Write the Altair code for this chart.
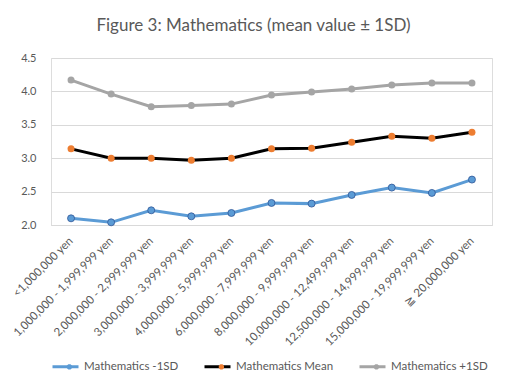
import math
import altair as alt
import pandas as pd

categories = [
    "<1,000,000 yen",
    "1,000,000 - 1,999,999 yen",
    "2,000,000 - 2,999,999 yen",
    "3,000,000 - 3,999,999 yen",
    "4,000,000 - 5,999,999 yen",
    "6,000,000 - 7,999,999 yen",
    "8,000,000 - 9,999,999 yen",
    "10,000,000 - 12,499,999 yen",
    "12,500,000 - 14,999,999 yen",
    "15,000,000 - 19,999,999 yen",
    "≧ 20,000,000 yen",
]
minus_sd = [2.10, 2.04, 2.22, 2.13, 2.18, 2.33, 2.32, 2.45, 2.56, 2.48, 2.68]
mean_vals = [3.14, 3.00, 3.00, 2.97, 3.00, 3.14, 3.15, 3.24, 3.33, 3.30, 3.39]
plus_sd = [4.17, 3.96, 3.77, 3.79, 3.81, 3.945, 3.99, 4.035, 4.095, 4.125, 4.125]

series_names = ["Mathematics -1SD", "Mathematics Mean", "Mathematics +1SD"]
line_colors = ["#5b9bd5", "#000000", "#a5a5a5"]
point_colors = ["#5b9bd5", "#ed7d31", "#a5a5a5"]

rows = []
for name, vals in zip(series_names, [minus_sd, mean_vals, plus_sd]):
    for c, v in zip(categories, vals):
        rows.append({"cat": c, "value": v, "series": name})
df = pd.DataFrame(rows)

FONT = "Lato"
GREY = "#595959"

x_enc = alt.X(
    "cat:N",
    sort=categories,
    scale=alt.Scale(type="point", padding=0.5),
    axis=alt.Axis(
        title=None,
        labelAngle=-45,
        labelAlign="right",
        labelBaseline="middle",
        labelPadding=14,
        ticks=False,
        domain=True,
        domainColor="#d9d9d9",
        labelFont=FONT,
        labelFontSize=11.5,
        labelColor=GREY,
        labelOverlap=False,
        labelLimit=300,
    ),
)
y_enc = alt.Y(
    "value:Q",
    scale=alt.Scale(domain=[2.0, 4.5], nice=False, zero=False),
    axis=alt.Axis(
        title=None,
        values=[2.0, 2.5, 3.0, 3.5, 4.0, 4.5],
        format=".1f",
        ticks=False,
        domain=False,
        gridColor="#d9d9d9",
        labelPadding=15,
        labelFont=FONT,
        labelFontSize=11,
        labelColor=GREY,
    ),
)

# legend symbol shapes (unit square coordinates): a line, and a line + small round dot
line_path = "M-1,0L1,0"
dot_r = 0.21
dot_cx = 0.3
poly = "L".join(
    f"{dot_cx + dot_r * math.cos(2 * math.pi * k / 16):.3f},{dot_r * math.sin(2 * math.pi * k / 16):.3f}"
    for k in range(16)
)
dot_path = "M-1,0L1,0M" + poly + "Z"

common_legend = dict(
    title=None,
    orient="none",
    direction="horizontal",
    legendX=0,
    legendY=294,
    symbolSize=676,
    symbolStrokeWidth=3,
    labelFont=FONT,
    labelFontSize=11.5,
    labelColor=GREY,
    labelOffset=4,
    columnPadding=19,
    padding=0,
)

lines = alt.Chart(df).mark_line(strokeWidth=3).encode(
    x=x_enc,
    y=y_enc,
    stroke=alt.Stroke(
        "series:N",
        sort=series_names,
        scale=alt.Scale(domain=series_names, range=line_colors),
        legend=alt.Legend(
            symbolType=line_path,
            symbolFillColor="transparent",
            **common_legend,
        ),
    ),
)

points = alt.Chart(df).mark_point(filled=True, size=49, opacity=1, shape="circle").encode(
    x=x_enc,
    y=y_enc,
    fill=alt.Fill(
        "series:N",
        sort=series_names,
        scale=alt.Scale(domain=series_names, range=point_colors),
        legend=alt.Legend(
            symbolType=dot_path,
            symbolStrokeColor="transparent",
            labelOpacity=0,
            **common_legend,
        ),
    ),
    stroke=alt.condition(
        alt.datum.series == "Mathematics -1SD",
        alt.value("#2f5597"),
        alt.value("transparent"),
    ),
    strokeWidth=alt.value(0.8),
)

chart = (
    alt.layer(lines, points)
    .resolve_scale(stroke="independent", fill="independent")
    .properties(
        width=441,
        height=167,
        padding={"left": 43, "top": 50, "right": 6, "bottom": 152},
        autosize=alt.AutoSizeParams(type="none"),
        title=alt.TitleParams(
            "Figure 3: Mathematics (mean value ± 1SD)",
            font=FONT,
            fontSize=17,
            fontWeight="normal",
            color=GREY,
            anchor="middle",
            dx=-18,
            offset=17,
        ),
    )
    .configure_view(stroke=None)
    .configure(background="white")
)

chart.save("out.html", embed_options={"renderer": "svg", "actions": False})
